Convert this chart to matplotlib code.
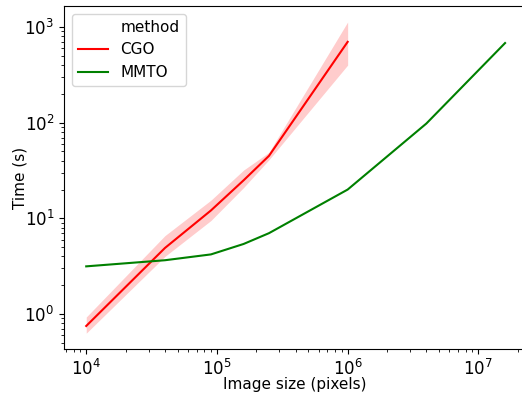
import numpy as np
import matplotlib
matplotlib.use("Agg")
import matplotlib.pyplot as plt
from matplotlib.lines import Line2D

# tamaños de imagen (pixeles)
sizes_cgo = [1e4, 4e4, 9e4, 1.6e5, 2.5e5, 1e6]
sizes_mmto = [1e4, 4e4, 9e4, 1.6e5, 2.5e5, 1e6, 4e6, 1.6e7]

# tiempos (s)
cgo_mean = [0.75, 4.9, 12.1, 25, 45, 700]
cgo_low = [0.63, 4.0, 9.5, 21, 41, 400]
cgo_high = [0.93, 6.6, 15.5, 32, 49, 1130]
mmto_mean = [3.15, 3.65, 4.2, 5.4, 7.0, 20, 98, 680]

fig = plt.figure(figsize=(5.22, 3.98), dpi=100)
ax = fig.add_axes([0.1226, 0.123, 0.8860, 0.862])

ax.fill_between(sizes_cgo, cgo_low, cgo_high, color="red", alpha=0.2, linewidth=0)
ax.plot(sizes_cgo, cgo_mean, color="red", lw=1.5, label="CGO")
ax.plot(sizes_mmto, mmto_mean, color="green", lw=1.5, label="MMTO")

ax.set_xscale("log")
ax.set_yscale("log")
ax.set_xlim(10**3.83, 10**7.368)
ax.set_ylim(10**-0.366, 10**3.22)
ax.spines["right"].set_visible(False)

ax.set_xlabel("Image size (pixels)", fontsize=11, labelpad=-1)
ax.set_ylabel("Time (s)", fontsize=11, labelpad=-2)
ax.tick_params(labelsize=12)

handles = [Line2D([], [], color="none"),
           Line2D([], [], color="red", lw=1.5),
           Line2D([], [], color="green", lw=1.5)]
ax.legend(handles, ["method", "CGO", "MMTO"], loc="upper left", fontsize=11)

fig.savefig("out.png", dpi=100)
